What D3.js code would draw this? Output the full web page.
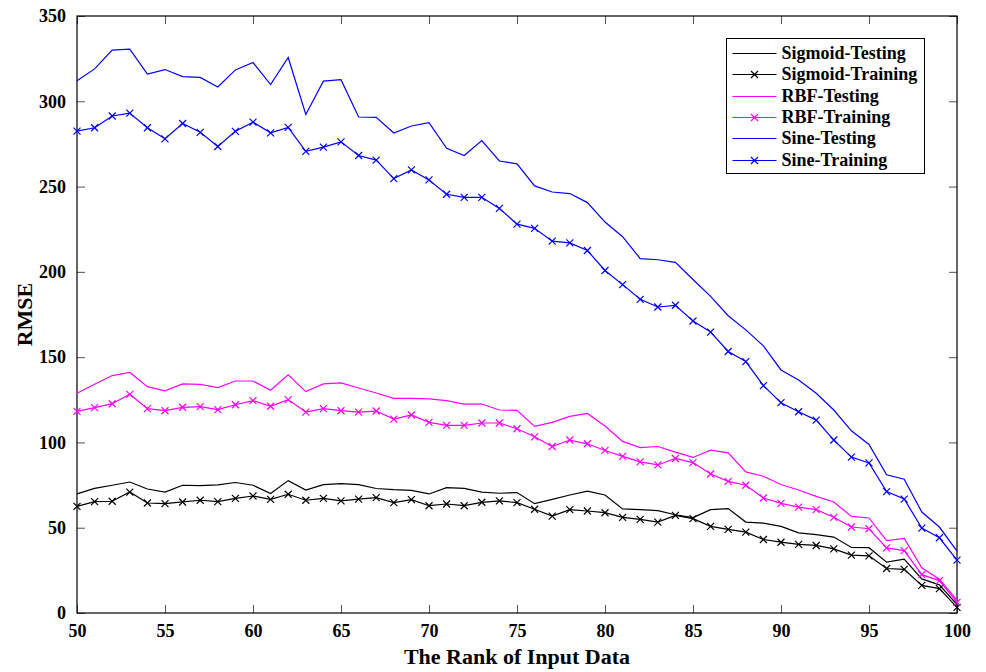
<!DOCTYPE html>
<html>
<head>
<meta charset="utf-8">
<script src="https://cdn.jsdelivr.net/npm/d3@7"></script>
<style>
  body { margin: 0; background: #fff; }
  text { font-family: "Liberation Serif", "Times New Roman", serif; font-weight: bold; }
</style>
</head>
<body>
<div id="chart"></div>
<script>
// rank of input data, 50..100
const ranks = d3.range(50, 101);

const sigmoidTesting = [69.8, 73.1, 74.9, 76.8, 72.7, 70.9, 74.9, 74.7, 75.1, 76.5,
  74.9, 70.0, 77.6, 72.1, 75.3, 75.9, 75.3, 73.0, 72.3, 71.9,
  69.8, 73.5, 73.1, 70.9, 70.2, 70.6, 64.1, 66.6, 69.2, 71.4,
  69.2, 61.0, 60.6, 60.0, 57.6, 55.9, 60.6, 61.2, 53.3, 52.7,
  50.8, 47.0, 45.9, 44.5, 38.4, 38.3, 29.8, 31.6, 20.0, 16.5, 4.9];

const sigmoidTraining = [62.5, 65.3, 65.5, 70.9, 64.5, 64.1, 65.1, 66.1, 65.3, 67.2,
  68.6, 66.6, 69.6, 66.1, 67.2, 65.7, 66.8, 67.6, 64.7, 66.5,
  62.9, 63.9, 62.9, 64.9, 65.7, 64.7, 60.8, 56.8, 60.6, 59.8,
  58.8, 56.1, 54.9, 53.3, 57.2, 55.3, 50.8, 49.0, 47.4, 43.1,
  41.5, 40.2, 39.6, 37.6, 33.9, 33.5, 26.1, 25.6, 16.2, 14.3, 3.3];

const rbfTesting = [128.8, 134.1, 139.2, 141.0, 132.7, 130.2, 134.3, 134.0, 132.1, 136.0,
  136.0, 130.6, 139.6, 129.8, 134.3, 134.9, 131.9, 129.0, 125.8, 125.8,
  125.5, 124.5, 122.5, 122.5, 119.0, 118.8, 109.4, 111.8, 115.3, 117.0,
  109.6, 100.6, 97.0, 97.6, 94.3, 91.2, 95.5, 93.9, 82.7, 80.2,
  75.3, 72.1, 68.4, 65.1, 56.6, 55.7, 42.5, 43.7, 26.5, 19.8, 7.6];

const rbfTraining = [118.2, 120.4, 122.7, 128.2, 119.8, 118.6, 120.6, 121.0, 119.2, 122.1,
  124.5, 121.2, 125.1, 117.8, 119.8, 118.6, 117.8, 118.4, 113.7, 116.1,
  111.8, 110.0, 110.0, 111.4, 111.4, 108.0, 103.3, 97.6, 101.4, 99.2,
  95.3, 91.8, 88.6, 86.8, 90.6, 88.2, 81.5, 77.2, 74.9, 67.4,
  64.3, 62.1, 60.6, 56.1, 50.4, 49.4, 38.2, 36.6, 22.5, 19.0, 6.2];

const sineTesting = [312.0, 319.0, 330.0, 330.6, 316.0, 318.6, 314.5, 314.0, 308.4, 318.4,
  322.7, 309.8, 325.7, 292.3, 311.8, 312.7, 290.8, 290.6, 281.4, 285.5,
  287.4, 272.4, 268.2, 277.0, 265.0, 263.3, 250.4, 246.8, 245.9, 240.6,
  229.2, 220.6, 207.8, 207.1, 205.6, 195.5, 185.6, 174.3, 166.0, 156.6,
  142.5, 136.6, 128.8, 119.0, 106.8, 98.8, 81.0, 78.4, 59.2, 50.4, 36.3];

const sineTraining = [282.5, 284.5, 291.4, 293.1, 284.5, 278.0, 287.0, 281.8, 273.5, 282.4,
  287.8, 281.5, 284.7, 270.6, 273.1, 276.2, 268.2, 265.5, 254.7, 259.8,
  253.9, 245.5, 243.7, 243.7, 237.2, 228.0, 225.5, 218.0, 217.0, 212.5,
  200.8, 192.5, 183.9, 179.4, 180.4, 171.2, 164.7, 153.3, 147.4, 133.3,
  123.3, 118.0, 113.1, 101.4, 91.4, 88.0, 71.2, 66.8, 49.8, 44.1, 31.0];

const seriesNames = ["Sigmoid-Testing", "Sigmoid-Training", "RBF-Testing", "RBF-Training", "Sine-Testing", "Sine-Training"];
const seriesValues = [sigmoidTesting, sigmoidTraining, rbfTesting, rbfTraining, sineTesting, sineTraining];
const seriesColors = ["#000000", "#000000", "#ff00ff", "#ff00ff", "#0000ff", "#0000ff"];
const seriesMarked = [false, true, false, true, false, true];

const xTicks = d3.range(50, 101, 5);
const yTicks = d3.range(0, 351, 50);

const W = 986, H = 672;
const margin = {left: 77, right: 29, top: 16, bottom: 59};
const pw = W - margin.left - margin.right;
const ph = H - margin.top - margin.bottom;

const svg = d3.select("#chart").append("svg")
    .attr("width", W)
    .attr("height", H);

const x = d3.scaleLinear().domain([50, 100]).range([margin.left, margin.left + pw]);
const y = d3.scaleLinear().domain([0, 350]).range([margin.top + ph, margin.top]);

// inward ticks on all four sides
const tickLen = 8;
svg.append("g")
    .attr("transform", `translate(0,${margin.top + ph})`)
    .call(d3.axisBottom(x).tickValues(xTicks).tickSizeInner(-tickLen).tickSizeOuter(0).tickPadding(tickLen + 3))
    .call(g => g.select(".domain").remove())
    .call(g => g.selectAll("line").attr("stroke", "#555"))
    .call(g => g.selectAll("text").attr("font-size", 18).attr("fill", "#000")
        .attr("font-family", "Liberation Serif").attr("font-weight", "bold"));

svg.append("g")
    .attr("transform", `translate(0,${margin.top})`)
    .call(d3.axisTop(x).tickValues(xTicks).tickSizeInner(-tickLen).tickSizeOuter(0).tickFormat(""))
    .call(g => g.select(".domain").remove())
    .call(g => g.selectAll("line").attr("stroke", "#555"));

svg.append("g")
    .attr("transform", `translate(${margin.left},0)`)
    .call(d3.axisLeft(y).tickValues(yTicks).tickSizeInner(-tickLen).tickSizeOuter(0).tickPadding(tickLen + 3))
    .call(g => g.select(".domain").remove())
    .call(g => g.selectAll("line").attr("stroke", "#555"))
    .call(g => g.selectAll("text").attr("font-size", 18).attr("fill", "#000")
        .attr("font-family", "Liberation Serif").attr("font-weight", "bold"));

svg.append("g")
    .attr("transform", `translate(${margin.left + pw},0)`)
    .call(d3.axisRight(y).tickValues(yTicks).tickSizeInner(-tickLen).tickSizeOuter(0).tickFormat(""))
    .call(g => g.select(".domain").remove())
    .call(g => g.selectAll("line").attr("stroke", "#555"));

// frame
svg.append("rect")
    .attr("x", margin.left)
    .attr("y", margin.top)
    .attr("width", pw)
    .attr("height", ph)
    .attr("fill", "none")
    .attr("stroke", "#000")
    .attr("stroke-width", 1.2);

const line = d3.line()
    .x((d, i) => x(ranks[i]))
    .y(d => y(d));

const crossPath = "M-3.5,-3.5L3.5,3.5M-3.5,3.5L3.5,-3.5";

seriesValues.forEach(function(vals, k) {
    svg.append("path")
        .datum(vals)
        .attr("d", line)
        .attr("fill", "none")
        .attr("stroke", seriesColors[k])
        .attr("stroke-width", 1.2);

    if (seriesMarked[k]) {
        svg.append("g").selectAll("path")
            .data(vals)
            .join("path")
            .attr("transform", (d, i) => `translate(${x(ranks[i])},${y(d)})`)
            .attr("d", crossPath)
            .attr("stroke", seriesColors[k])
            .attr("stroke-width", 1.2)
            .attr("fill", "none");
    }
});

// axis titles
svg.append("text")
    .attr("x", margin.left + pw / 2)
    .attr("y", 664)
    .attr("text-anchor", "middle")
    .attr("font-size", 22)
    .text("The Rank of Input Data");

svg.append("text")
    .attr("transform", `translate(32,${margin.top + ph / 2}) rotate(-90)`)
    .attr("text-anchor", "middle")
    .attr("font-size", 22)
    .text("RMSE");

// legend
const lg = svg.append("g").attr("transform", "translate(726.5,38.5)");
lg.append("rect")
    .attr("width", 198)
    .attr("height", 135)
    .attr("fill", "#fff")
    .attr("stroke", "#000")
    .attr("stroke-width", 1);

seriesNames.forEach(function(name, k) {
    const ly = Math.round(15 + k * 21.3);
    lg.append("line")
        .attr("x1", 6).attr("x2", 50)
        .attr("y1", ly).attr("y2", ly)
        .attr("stroke", seriesColors[k])
        .attr("stroke-width", 1.2);
    if (seriesMarked[k]) {
        lg.append("path")
            .attr("transform", `translate(28,${ly})`)
            .attr("d", crossPath)
            .attr("fill", "none")
            .attr("stroke", seriesColors[k])
            .attr("stroke-width", 1.2);
    }
    lg.append("text")
        .attr("x", 55)
        .attr("y", ly + 5.5)
        .attr("font-size", 18)
        .text(name);
});
</script>
</body>
</html>
